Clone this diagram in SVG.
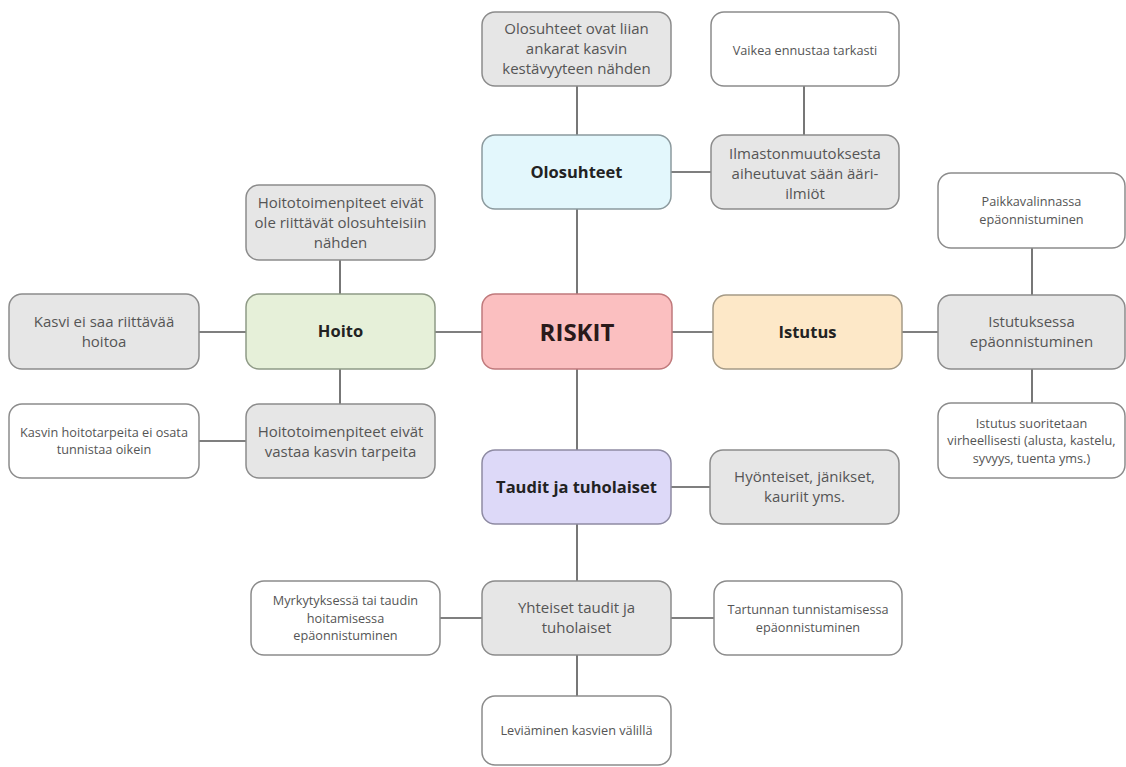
<svg xmlns="http://www.w3.org/2000/svg" width="1126" height="767" viewBox="0 0 1126 767">
<style>
rect{stroke-width:1.5}
.g{fill:#e6e6e6;stroke:#8c8c8c}
.w{fill:#ffffff;stroke:#8c8c8c}
text{font-family:"Open Sans","Liberation Sans",sans-serif;text-anchor:middle}
.t{font-size:15px;fill:#555}
.s{font-size:12.7px;fill:#555}
.b{font-size:16.5px;font-weight:bold;fill:#222}
.c line{stroke:#555;stroke-width:1.6}
</style>
<rect width="1126" height="767" fill="#fff"/>
<g class="c" id="connectors">
<line x1="577" y1="86" x2="577" y2="135"/>
<line x1="804" y1="86" x2="804" y2="135"/>
<line x1="671" y1="172" x2="711" y2="172"/>
<line x1="577" y1="209" x2="577" y2="294"/>
<line x1="577" y1="369" x2="577" y2="450"/>
<line x1="435" y1="332" x2="482" y2="332"/>
<line x1="672" y1="332" x2="713" y2="332"/>
<line x1="199" y1="332" x2="246" y2="332"/>
<line x1="340" y1="260" x2="340" y2="294"/>
<line x1="340" y1="369" x2="340" y2="404"/>
<line x1="199" y1="441" x2="246" y2="441"/>
<line x1="902" y1="332" x2="938" y2="332"/>
<line x1="1032" y1="248" x2="1032" y2="295"/>
<line x1="1032" y1="369" x2="1032" y2="403"/>
<line x1="671" y1="487" x2="710" y2="487"/>
<line x1="577" y1="524" x2="577" y2="581"/>
<line x1="440" y1="618" x2="482" y2="618"/>
<line x1="671" y1="618" x2="714" y2="618"/>
<line x1="577" y1="655" x2="577" y2="696"/>
</g>
<g id="olosuhteet-ankarat"><rect class="g" x="482" y="12" width="189" height="74" rx="13"/>
<text class="t" x="576.5" y="34">Olosuhteet ovat liian</text><text class="t" x="576.5" y="54">ankarat kasvin</text><text class="t" x="576.5" y="74">kestävyyteen nähden</text></g>
<g id="vaikea"><rect class="w" x="711" y="12" width="188" height="74" rx="13"/>
<text class="s" x="805" y="54.5">Vaikea ennustaa tarkasti</text></g>
<g id="olosuhteet"><rect x="482" y="135" width="189" height="74" rx="13" fill="#e3f7fc" stroke="#8c9a9e"/>
<text class="b" x="576.5" y="178">Olosuhteet</text></g>
<g id="ilmasto"><rect class="g" x="711" y="135" width="188" height="74" rx="13"/>
<text class="t" x="805" y="158.5">Ilmastonmuutoksesta</text><text class="t" x="805" y="178.5">aiheutuvat sään ääri-</text><text class="t" x="805" y="198.5">ilmiöt</text></g>
<g id="hoito-riittavat"><rect class="g" x="246" y="185" width="189" height="75" rx="13"/>
<text class="t" x="340.5" y="208">Hoitotoimenpiteet eivät</text><text class="t" x="340.5" y="228">ole riittävät olosuhteisiin</text><text class="t" x="340.5" y="248">nähden</text></g>
<g id="kasvi-ei-saa"><rect class="g" x="9" y="294" width="190" height="75" rx="13"/>
<text class="t" x="104" y="327">Kasvi ei saa riittävää</text><text class="t" x="104" y="347">hoitoa</text></g>
<g id="hoito"><rect x="246" y="294" width="189" height="75" rx="13" fill="#e6f0d9" stroke="#8f9a86"/>
<text class="b" x="340.5" y="337">Hoito</text></g>
<g id="riskit"><rect x="482" y="294" width="190" height="75" rx="13" fill="#fbbfc0" stroke="#c07a7c"/>
<text x="577" y="341" font-size="24" font-weight="bold" fill="#2a1a1a">RISKIT</text></g>
<g id="istutus"><rect x="713" y="295" width="189" height="74" rx="13" fill="#fde8c8" stroke="#a59a86"/>
<text class="b" x="807.5" y="338">Istutus</text></g>
<g id="paikkavalinta"><rect class="w" x="938" y="173" width="187" height="75" rx="13"/>
<text class="s" x="1031.5" y="206">Paikkavalinnassa</text><text class="s" x="1031.5" y="223.5">epäonnistuminen</text></g>
<g id="istutuksessa"><rect class="g" x="938" y="295" width="187" height="74" rx="13"/>
<text class="t" x="1031.5" y="327">Istutuksessa</text><text class="t" x="1031.5" y="347">epäonnistuminen</text></g>
<g id="istutus-virhe"><rect class="w" x="938" y="403" width="187" height="75" rx="13"/>
<text class="s" x="1031.5" y="427.5">Istutus suoritetaan</text><text class="s" x="1031.5" y="445">virheellisesti (alusta, kastelu,</text><text class="s" x="1031.5" y="462.5">syvyys, tuenta yms.)</text></g>
<g id="kasvin-hoitotarpeita"><rect class="w" x="9" y="404" width="190" height="74" rx="13"/>
<text class="s" x="104" y="437">Kasvin hoitotarpeita ei osata</text><text class="s" x="104" y="454">tunnistaa oikein</text></g>
<g id="hoito-vastaa"><rect class="g" x="246" y="404" width="189" height="74" rx="13"/>
<text class="t" x="340.5" y="436.5">Hoitotoimenpiteet eivät</text><text class="t" x="340.5" y="456.5">vastaa kasvin tarpeita</text></g>
<g id="taudit"><rect x="482" y="450" width="189" height="74" rx="13" fill="#ddd9f8" stroke="#8e8ba3"/>
<text class="b" x="576.5" y="493">Taudit ja tuholaiset</text></g>
<g id="hyonteiset"><rect class="g" x="710" y="450" width="189" height="74" rx="13"/>
<text class="t" x="804.5" y="482">Hyönteiset, jänikset,</text><text class="t" x="804.5" y="502">kauriit yms.</text></g>
<g id="myrkytys"><rect class="w" x="251" y="581" width="189" height="74" rx="13"/>
<text class="s" x="345.5" y="605">Myrkytyksessä tai taudin</text><text class="s" x="345.5" y="622.5">hoitamisessa</text><text class="s" x="345.5" y="640">epäonnistuminen</text></g>
<g id="yhteiset"><rect class="g" x="482" y="581" width="189" height="74" rx="13"/>
<text class="t" x="576.5" y="613">Yhteiset taudit ja</text><text class="t" x="576.5" y="633">tuholaiset</text></g>
<g id="tartunta"><rect class="w" x="714" y="581" width="188" height="74" rx="13"/>
<text class="s" x="808" y="614">Tartunnan tunnistamisessa</text><text class="s" x="808" y="631.5">epäonnistuminen</text></g>
<g id="leviaminen"><rect class="w" x="482" y="696" width="189" height="69" rx="13"/>
<text class="s" x="576.5" y="735">Leviäminen kasvien välillä</text></g>
</svg>
